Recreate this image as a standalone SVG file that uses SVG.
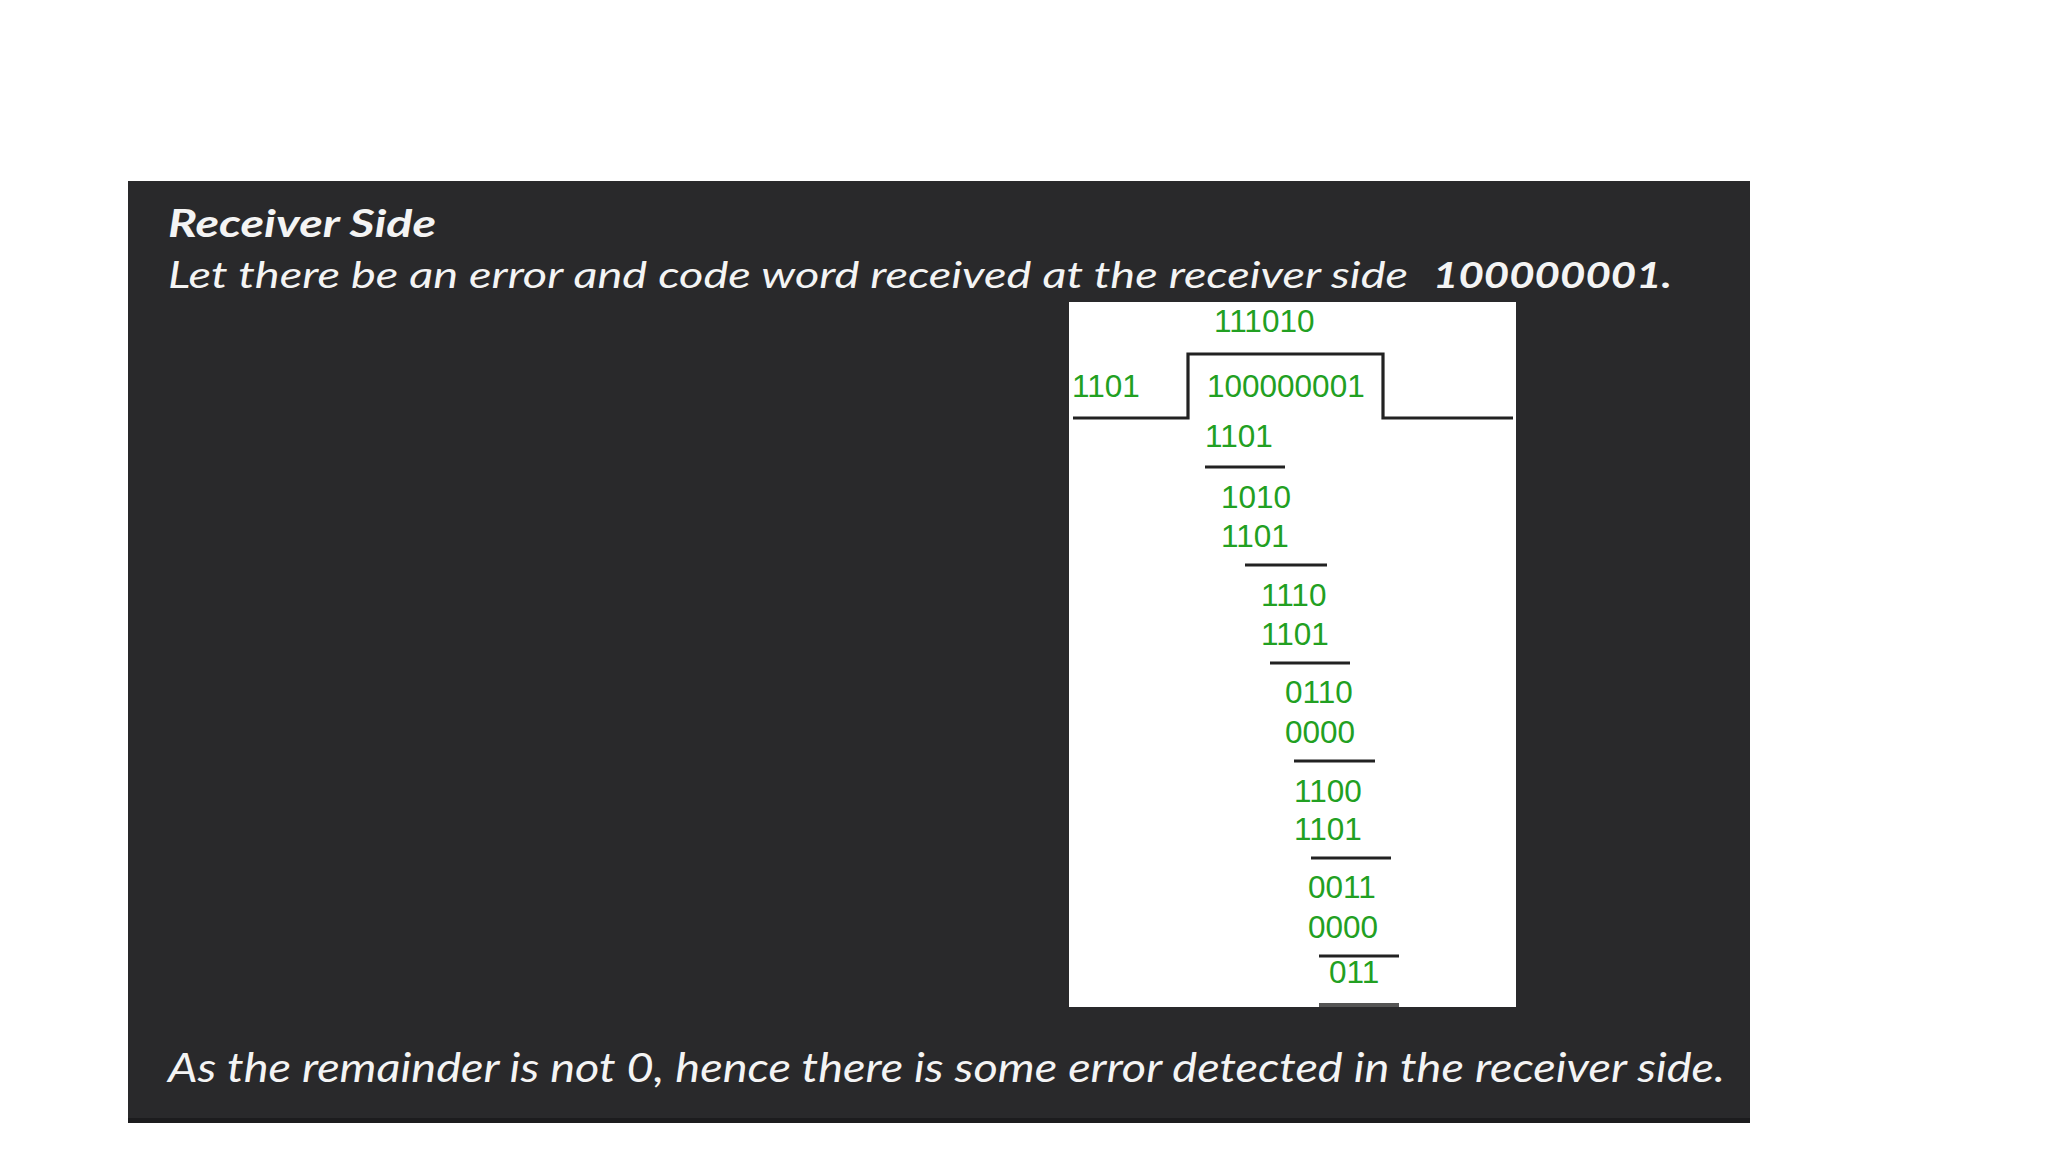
<svg xmlns="http://www.w3.org/2000/svg" width="2048" height="1152" viewBox="0 0 2048 1152">
  <style>
    .hd { font-family: Lato, "Open Sans", "Liberation Sans", sans-serif; font-style: italic; fill: #f4f4f4; }
    .b { font-weight: 700; }
    .d { font-family: "Liberation Sans", Arial, sans-serif; font-size: 31.5px; fill: #22a022; }
    .ln { stroke: #222; stroke-width: 3.2; fill: none; }
  </style>
  <rect x="0" y="0" width="2048" height="1152" fill="#ffffff"/>
  <g id="panel">
    <rect x="128" y="181" width="1622" height="942" fill="#29292b"/>
    <rect x="128" y="1118" width="1622" height="5" fill="#1c1c1e"/>
  </g>
  <g id="title">
    <text class="hd b" x="168" y="237" font-size="38" textLength="268" lengthAdjust="spacingAndGlyphs">Receiver Side</text>
    <text class="hd" x="168" y="288" font-size="36" textLength="1240" lengthAdjust="spacingAndGlyphs">Let there be an error and code word received at the receiver side</text>
    <text class="hd b" x="1433" y="288" font-size="36" textLength="239" lengthAdjust="spacingAndGlyphs">100000001.</text>
  </g>
  <g id="division">
    <rect x="1069" y="302" width="447" height="705" fill="#ffffff"/>
    <g id="connectors">
      <path class="ln" d="M1073 418 H1188 V354 H1383 V418 H1513"/>
      <line class="ln" x1="1205" y1="467" x2="1285" y2="467"/>
      <line class="ln" x1="1245" y1="565" x2="1327" y2="565"/>
      <line class="ln" x1="1270" y1="663" x2="1350" y2="663"/>
      <line class="ln" x1="1294" y1="761" x2="1375" y2="761"/>
      <line class="ln" x1="1311" y1="858" x2="1391" y2="858"/>
      <line class="ln" x1="1319" y1="956" x2="1399" y2="956"/>
      <line stroke="#555" stroke-width="4" x1="1319" y1="1005" x2="1399" y2="1005"/>
    </g>
    <g id="quotient"><text class="d" x="1214" y="332">111010</text></g>
    <g id="divisor"><text class="d" x="1072" y="397">1101</text></g>
    <g id="dividend"><text class="d" x="1207" y="397">100000001</text></g>
    <g id="step1">
      <text class="d" x="1205" y="447">1101</text>
    </g>
    <g id="step2">
      <text class="d" x="1221" y="508">1010</text>
      <text class="d" x="1221" y="547">1101</text>
    </g>
    <g id="step3">
      <text class="d" x="1261" y="606">1110</text>
      <text class="d" x="1261" y="645">1101</text>
    </g>
    <g id="step4">
      <text class="d" x="1285" y="703">0110</text>
      <text class="d" x="1285" y="743">0000</text>
    </g>
    <g id="step5">
      <text class="d" x="1294" y="802">1100</text>
      <text class="d" x="1294" y="840">1101</text>
    </g>
    <g id="step6">
      <text class="d" x="1308" y="898">0011</text>
      <text class="d" x="1308" y="938">0000</text>
    </g>
    <g id="remainder"><text class="d" x="1329" y="983">011</text></g>
  </g>
  <g id="conclusion">
    <text class="hd" x="168" y="1082" font-size="41" textLength="1557" lengthAdjust="spacingAndGlyphs">As the remainder is not 0, hence there is some error detected in the receiver side.</text>
  </g>
</svg>
